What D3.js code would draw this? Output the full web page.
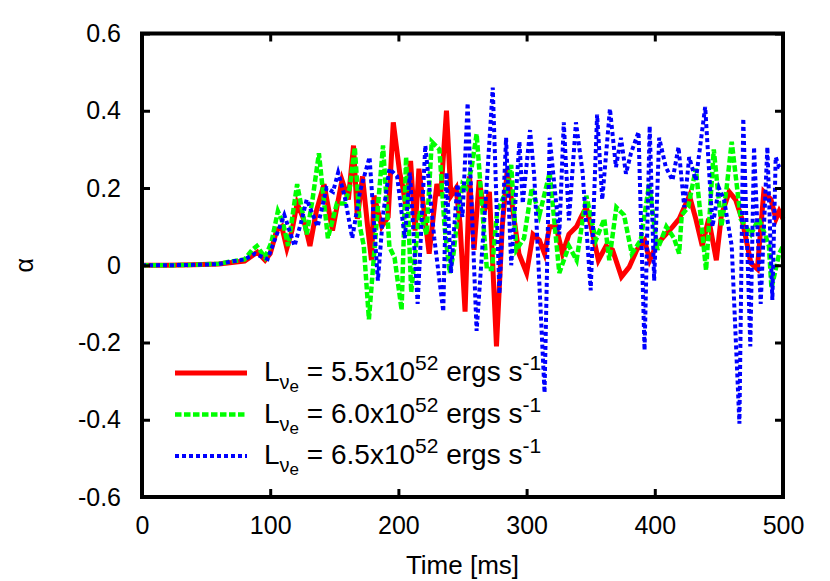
<!DOCTYPE html>
<html>
<head>
<meta charset="utf-8">
<script src="https://cdn.jsdelivr.net/npm/d3@7"></script>
<style>
  body { margin: 0; background: #fff; }
  svg { display: block; font-family: "Liberation Sans", Arial, sans-serif; }
</style>
</head>
<body>
<svg width="830" height="581"></svg>
<script>
// time [ms], alpha
var red55 = [[0,0],[20,0],[40,0.001],[60,0.003],[70,0.007],[80,0.011],[86,0.025],[90,0.034],[96,0.013],[100,0.03],[105,0.09],[109,0.1],[113,0.044],[117,0.09],[121,0.16],[126,0.12],[131,0.05],[136,0.14],[142,0.21],[148.6,0.09],[152,0.15],[156,0.22],[161,0.17],[165,0.31],[168,0.12],[172,0.23],[176,0.1],[179,0.013],[181,0.18],[187,0.1],[192,0.125],[196,0.37],[201,0.24],[203,0.21],[206,0.15],[209.5,0.27],[213,0.09],[216,0.25],[220,0.14],[224,0.03],[230,0.21],[233,0.18],[237.5,0.4],[241,0.18],[245,0.2],[248,0.11],[252,-0.12],[255.5,0.23],[259,0.04],[263,0.22],[267,0.14],[271,0.19],[276.5,-0.21],[281,0.1],[285,0.25],[289,0.15],[294,0.03],[300,-0.02],[305,0.08],[310,0.065],[314,0.03],[318,0.1],[323,0.1],[328,0.03],[333,0.08],[339,0.1],[342.6,0.125],[346.6,0.15],[351,0.09],[356,0.013],[362,0.05],[367,0.04],[374,-0.03],[380,-0.005],[386,0.04],[392,0.065],[396,0.013],[401,0.05],[406,0.07],[414,0.1],[419,0.12],[427,0.18],[432,0.12],[437,0.05],[442,0.12],[448,0.013],[452,0.13],[458,0.19],[463,0.17],[468,0.12],[475,0.005],[480,-0.01],[485,0.19],[490.6,0.17],[494.5,0.12],[497,0.14],[500,0.12]];

var green60 = [[0,0],[20,0],[40,0.001],[60,0.004],[70,0.01],[80,0.015],[86,0.04],[89.6,0.05],[96,0.02],[101,0.06],[106,0.14],[110,0.11],[114,0.05],[121,0.21],[128.5,0.08],[133,0.17],[138,0.29],[145,0.07],[152,0.16],[158,0.16],[162,0.2],[166,0.305],[170,0.1],[173,0.05],[177,-0.14],[183,0.11],[188,0.31],[193,0.047],[197,0.02],[202.5,-0.116],[206,0.28],[210,-0.07],[216.5,0.14],[222,0.08],[226,0.32],[232,0.3],[236,0.1],[240,-0.02],[243,0.03],[246,0.12],[250,0.21],[253,0.2],[257,0.25],[261,0.34],[266,0.12],[269,-0.01],[273,-0.01],[277,0.14],[284,0.19],[288,0.26],[292,0.04],[298,0.07],[304,0.2],[310,0.13],[318,0.24],[325.5,-0.02],[333,0.05],[339,0.013],[346.6,0.18],[354,0.065],[360.6,0.12],[364.5,0.013],[370,0.15],[376,0.13],[382,0.03],[389,0.065],[395.6,0.21],[402,0.04],[409,0.1],[415,0.07],[419,0.03],[421,0.13],[426,0.15],[432,0.25],[440,-0.013],[446,0.3],[452,0.1],[456,0.2],[460,0.32],[467,0.12],[475,0.08],[481,0.12],[486,0.08],[489,0.05],[491,-0.06],[497,0.03],[500,0.05]];

var blue65 = [[0,0],[20,0],[40,0.001],[60,0.003],[70,0.01],[80,0.015],[88,0.03],[98,0.016],[104,0.07],[111,0.13],[119,0.05],[124,0.11],[128.5,0.17],[137,0.1],[144,0.2],[149,0.19],[153,0.24],[158,0.18],[164,0.07],[170,0.19],[177.5,0.28],[184,-0.04],[188,0.13],[193,0.25],[199,0.23],[205,0.07],[209,0.24],[215,-0.1],[221,0.31],[228,0.07],[235,-0.12],[237.5,0.24],[241,-0.02],[246,0.21],[250,0.125],[254,0.42],[261,-0.17],[268.7,0.2],[273.6,0.46],[278.8,-0.074],[284,0.33],[288,0],[294.4,0.32],[297,0.16],[302.7,0.35],[306,0.23],[314,-0.33],[318,0.33],[325.5,0.08],[329,0.37],[333,0.116],[338.5,0.37],[343.7,0.24],[350,-0.065],[355,0.39],[359,0.17],[365,0.405],[369.7,0.254],[373.6,0.33],[377.5,0.237],[381.4,0.29],[387.3,0.345],[392,-0.22],[396,0.36],[399.5,-0.04],[403.4,0.33],[408.6,0.254],[413.8,0.22],[418.5,0.306],[423,0.15],[426.8,0.28],[432,0.22],[439.3,0.41],[445,0.1],[450,0.2],[454,0.17],[460,0.05],[466,-0.41],[469,0.38],[474.5,-0.21],[477.4,0.306],[482.6,-0.1],[487.8,0.306],[491.7,-0.09],[494.3,0.28],[497,0.254],[500,0.25]];

var xTicks = [0, 100, 200, 300, 400, 500];
var yTicks = [-0.6, -0.4, -0.2, 0, 0.2, 0.4, 0.6];
var legendValues = ["5.5", "6.0", "6.5"];

var svg = d3.select("svg");

// plot box (plotTop, not top: window.top is read-only)
var plotLeft = 142, plotRight = 783, plotTop = 33.5, plotBottom = 497;

var x = d3.scaleLinear().domain([0, 500]).range([plotLeft, plotRight]);
var y = d3.scaleLinear().domain([-0.6, 0.6]).range([plotBottom, plotTop]);

var series = [
  { data: red55,   color: "#ff0000", width: 5,   dash: null },
  { data: green60, color: "#00ff00", width: 4.5, dash: "6.5,2.5" },
  { data: blue65,  color: "#0000ff", width: 4,   dash: "4,3" }
];

var line = d3.line()
  .x(function(d) { return x(d[0]); })
  .y(function(d) { return y(d[1]); });

// lines
var lines = svg.append("g").attr("class", "lines");
series.forEach(function(s) {
  lines.append("path")
    .datum(s.data)
    .attr("d", line)
    .attr("fill", "none")
    .attr("stroke", s.color)
    .attr("stroke-width", s.width)
    .attr("stroke-linejoin", "miter")
    .attr("stroke-dasharray", s.dash);
});

// legend
var legend = svg.append("g").attr("class", "legend");
series.forEach(function(s, i) {
  var ly = 373 + i * 41.5;
  legend.append("line")
    .attr("x1", 175).attr("x2", 247)
    .attr("y1", ly).attr("y2", ly)
    .attr("stroke", s.color)
    .attr("stroke-width", s.width)
    .attr("stroke-dasharray", s.dash);
  var t = legend.append("text")
    .attr("x", 264).attr("y", ly + 8)
    .attr("font-size", 28);
  t.append("tspan").text("L");
  t.append("tspan").attr("font-size", 20).attr("dy", 8).text("\u03bd");
  t.append("tspan").attr("font-size", 17).attr("dy", 3).text("e");
  t.append("tspan").attr("dy", -11).text(" = " + legendValues[i] + "x10");
  t.append("tspan").attr("font-size", 21).attr("dy", -11).text("52");
  t.append("tspan").attr("dy", 11).text(" ergs s");
  t.append("tspan").attr("font-size", 21).attr("dy", -11).text("-1");
});

// axes with inward ticks, mirrored on top/right
function fmt(d) { return d === 0 ? "0" : d3.format(".1f")(d).replace("\u2212", "-"); }

var axes = svg.append("g").attr("class", "axes");
axes.append("g")
  .attr("transform", "translate(0," + plotBottom + ")")
  .call(d3.axisBottom(x).tickValues(xTicks).tickSize(-8).tickPadding(19).tickFormat(d3.format("d")));
axes.append("g")
  .attr("transform", "translate(0," + plotTop + ")")
  .call(d3.axisTop(x).tickValues(xTicks).tickSize(-8).tickFormat(""));
axes.append("g")
  .attr("transform", "translate(" + plotLeft + ",0)")
  .call(d3.axisLeft(y).tickValues(yTicks).tickSize(-8).tickPadding(21).tickFormat(fmt));
axes.append("g")
  .attr("transform", "translate(" + plotRight + ",0)")
  .call(d3.axisRight(y).tickValues(yTicks).tickSize(-8).tickFormat(""));

axes.selectAll(".domain").remove();
axes.selectAll(".tick line").attr("stroke", "#000").attr("stroke-width", 3);
axes.selectAll(".tick text")
  .attr("font-size", 25)
  .attr("font-family", "Liberation Sans, Arial, sans-serif")
  .attr("fill", "#000");

// frame
svg.append("rect")
  .attr("x", plotLeft).attr("y", plotTop)
  .attr("width", plotRight - plotLeft).attr("height", plotBottom - plotTop)
  .attr("fill", "none")
  .attr("stroke", "#000")
  .attr("stroke-width", 4);

// axis titles
svg.append("text")
  .attr("x", (plotLeft + plotRight) / 2).attr("y", 574)
  .attr("text-anchor", "middle")
  .attr("font-size", 26)
  .text("Time [ms]");

svg.append("text")
  .attr("transform", "translate(33," + (plotTop + plotBottom) / 2 + ") rotate(-90)")
  .attr("text-anchor", "middle")
  .attr("font-size", 25)
  .text("\u03b1");
</script>
</body>
</html>
